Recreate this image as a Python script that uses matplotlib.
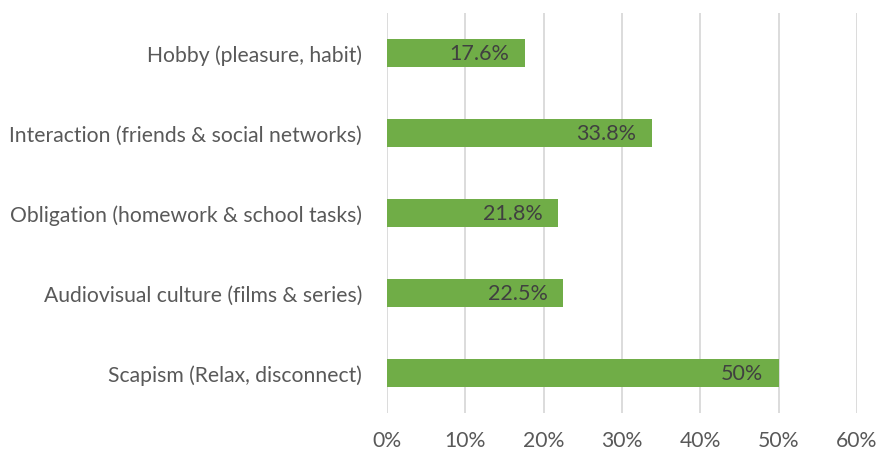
import matplotlib
matplotlib.use("Agg")
import matplotlib.pyplot as plt
from matplotlib.ticker import PercentFormatter

categories = [
    "Scapism (Relax, disconnect)",
    "Audiovisual culture (films & series)",
    "Obligation (homework & school tasks)",
    "Interaction (friends & social networks)",
    "Hobby (pleasure, habit)",
]
shares = [50.0, 22.5, 21.8, 33.8, 17.6]
value_labels = ["50%", "22.5%", "21.8%", "33.8%", "17.6%"]

plt.rcParams['font.family'] = ['Lato', 'DejaVu Sans']

fig = plt.figure(figsize=(8.77, 4.52), dpi=100)
ax = fig.add_axes([387 / 877, 1 - 414 / 452, 470 / 877, 400 / 452])

ypos = range(len(categories))
bars = ax.barh(ypos, shares, height=0.35, color="#70AD47", zorder=3)

for bar, text in zip(bars, value_labels):
    ax.annotate(text, (bar.get_width(), bar.get_y() + bar.get_height() / 2),
                xytext=(-11, 0), textcoords="offset points",
                ha="right", va="center", fontsize=15.5, color="#404040", zorder=4)

ax.set_xlim(0, 60)
ax.set_ylim(-0.5, len(categories) - 0.5)
ax.set_xticks(range(0, 61, 10))
ax.xaxis.set_major_formatter(PercentFormatter(decimals=0))
ax.set_yticks(list(ypos))
ax.set_yticklabels(categories)

ax.grid(axis="x", color="#D9D9D9", linewidth=1.3, zorder=0)
for side in ["top", "right", "bottom", "left"]:
    ax.spines[side].set_visible(False)
ax.tick_params(axis="both", length=0, labelsize=15.2, labelcolor="#595959")
ax.tick_params(axis="y", pad=18)
ax.tick_params(axis="x", pad=12)

fig.savefig("out.png", dpi=100)
